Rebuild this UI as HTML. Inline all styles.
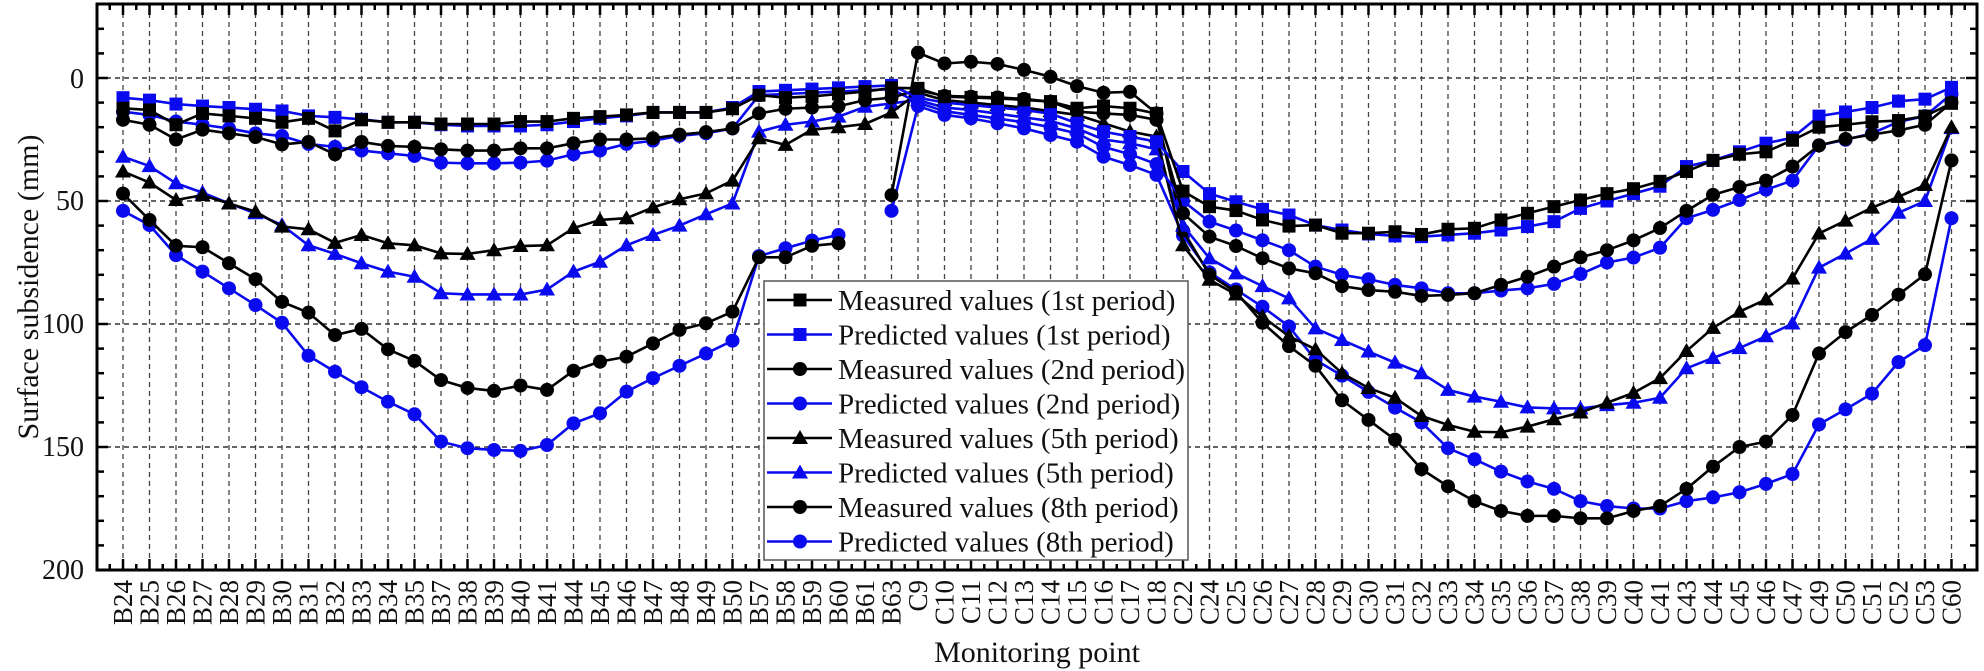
<!DOCTYPE html>
<html><head><meta charset="utf-8"><style>
html,body{margin:0;padding:0;background:#fff}
svg{display:block}
text{font-family:"Liberation Serif",serif;fill:#111}
</style></head><body>
<svg id="s" width="1984" height="671" viewBox="0 0 1984 671" xmlns="http://www.w3.org/2000/svg">
<g id="grid"></g>
<g id="series"></g>
<rect x="97" y="4" width="1880" height="566" fill="none" stroke="#000" stroke-width="3"/>
<g id="ticks"></g>
<g font-size="28" text-anchor="end">
<text x="84" y="88">0</text>
<text x="84" y="210">50</text>
<text x="84" y="333">100</text>
<text x="84" y="456">150</text>
<text x="84" y="579">200</text>
</g>
<text transform="translate(38,287) rotate(-90)" font-size="30" text-anchor="middle">Surface subsidence (mm)</text>
<text x="1037" y="662" font-size="30" text-anchor="middle">Monitoring point</text>
<g id="xl" font-size="27" text-anchor="end"></g>
<g id="legend">
<rect x="764" y="281" width="424" height="279" fill="#fff" stroke="#555" stroke-width="1.5"/>
<g font-size="29">
<text x="838" y="310">Measured values (1st period)</text>
<text x="838" y="344.5">Predicted values (1st period)</text>
<text x="838" y="379">Measured values (2nd period)</text>
<text x="838" y="413.5">Predicted values (2nd period)</text>
<text x="838" y="448">Measured values (5th period)</text>
<text x="838" y="482.5">Predicted values (5th period)</text>
<text x="838" y="517">Measured values (8th period)</text>
<text x="838" y="551.5">Predicted values (8th period)</text>
</g>
</g>
<g id="xlabels" font-size="27" text-anchor="end">
</g>
</svg>
<script>
var NS="http://www.w3.org/2000/svg";
function el(t,a,p){var e=document.createElementNS(NS,t);for(var k in a)e.setAttribute(k,a[k]);p.appendChild(e);return e;}
var cats=["B24","B25","B26","B27","B28","B29","B30","B31","B32","B33","B34","B35","B37","B38","B39","B40","B41","B44","B45","B46","B47","B48","B49","B50","B57","B58","B59","B60","B61","B63","C9","C10","C11","C12","C13","C14","C15","C16","C17","C18","C22","C24","C25","C26","C27","C28","C29","C30","C31","C32","C33","C34","C35","C36","C37","C38","C39","C40","C41","C43","C44","C45","C46","C47","C49","C50","C51","C52","C53","C60"];
function X(i){return 123+26.5*i;}
function Y(v){return 78+2.46*v;}
var g=document.getElementById("grid"),tk=document.getElementById("ticks"),sr=document.getElementById("series"),lg=document.getElementById("legend");
[0,50,100,150].forEach(function(v){el("line",{x1:97,x2:1977,y1:Y(v),y2:Y(v),stroke:"#333","stroke-width":1.5,"stroke-dasharray":"5 4"},g);});
for(var i=0;i<cats.length;i++){el("line",{x1:X(i),x2:X(i),y1:4,y2:570,stroke:"#444","stroke-width":1.3,"stroke-dasharray":"5 4"},g);}
// y ticks
for(var v=-30;v<=200;v+=10){var L=(v%50==0)?11:7;var y=Y(v);
el("line",{x1:97,x2:97+L,y1:y,y2:y,stroke:"#000","stroke-width":2.5},tk);
el("line",{x1:1977,x2:1977-L,y1:y,y2:y,stroke:"#000","stroke-width":2.5},tk);}
for(var i=-0.5;i<cats.length;i+=0.5){var x=X(i);var L=(i%1==0)?11:6;
el("line",{x1:x,x2:x,y1:570,y2:570-L,stroke:"#000","stroke-width":2.5},tk);
el("line",{x1:x,x2:x,y1:4,y2:4+L,stroke:"#000","stroke-width":2.5},tk);}
var xl=document.getElementById("xlabels");
cats.forEach(function(c,i){var t=el("text",{transform:"translate("+(X(i)+9)+",580) rotate(-90)"},xl);t.textContent=c;});
var n=null;
var D={
M1:[12.3,13,19,14.4,15.4,16.4,18,16.4,21.5,17,18,18,18.7,18.7,18.7,17.7,17.7,16.4,15.7,15,14,14,14,12.5, 7,8,7.5,6.5,5.5,4, 4.2,7.6,7.9,8.3,8.9,9.6,12.3,11.4,12.3,14.4, 46,52.3,53.9,57.7,60.2,59.8,63.1,63.1,62.5,63.6,61.5,61.1,57.7,55,52.3,49.6,47,45,42,38,33.5,31,30,25.3,20,19,17.8,17.3,15.5,10.3],
P1:[8,9,10.6,11.4,12,12.7,13.4,15.4,16,16.8,18,18,19,19.5,19.5,19.5,19,17.7,16.4,15.4,14,14,14,12, 5.5,5,4.5,4,3.5,3, 8,10,11,12,13,14.5,18.4,21.8,23.8,25.9, 38,47,50.3,53.4,55.7,59.8,61.8,63.4,64.2,64.5,63.8,63.1,61.8,60.4,58.4,53,50,47,44,36,33.5,30,26.5,24.3,15.5,13.8,12,9.4,8.6,3.8],
M2:[17,19,25,21,22.5,24,27,26,31,26,27.6,28,29,29.5,29.5,28.6,28.6,26.5,25,25,24.5,23,22,20.5, 14.4,12.5,12,11.5,9,8, 4.9,7.3,7.6,7.9,8.5,9.6,13.7,14.4,15,17, 55,64.5,68.3,73.3,77.4,79.4,84.6,86.2,86.9,88.6,88.2,87.5,84.1,80.8,76.7,72.9,70,66,61,54,47.5,44.3,41.7,36,27.4,24.8,23,21.3,19,10],
P2:[13.7,15,17.7,19,20.5,22.5,23.6,26.8,28,29.5,30.6,31.7,34.4,34.7,34.7,34.4,33.6,31,29.5,26.8,25.5,23.5,22.5,20.5, 7,6.5,6,5.5,5,4.5, 10,13.5,15,16.5,18,20,22.5,28,31,35, 50,58.4,62,66,70,76.7,80,81.8,84.1,85.5,87.5,87.5,86.4,85.5,83.7,79.7,75,73,69,57,53.6,49.6,45.4,41.7,27.4,25.1,22.5,17.8,15.5,6.5],
M5:[38,42.5,49.6,47.6,51,54.3,60.4,61.5,67,63.8,67.2,68,71.3,71.5,70,68.3,68,61,57.7,57,52.6,49.3,46.9,41.7, 24.5,27.2,21,20,18.7,14, 6,9,10,11,12,13.5,15,18.4,21.8,23.8, 68,82,88,97,105,110.3,120,126,130,137.4,141,143.8,144,141.7,138.7,136,132,128,122,111,101.6,95,90,81.5,63.2,58,52.7,48.3,43.5,20],
P5:[32,35.8,42.8,46.6,51,55,59.8,68,71.5,75.3,78.7,80.8,87.5,88,88,88,86,78.7,74.7,68,63.8,60,55.4,51, 21.8,19,17.7,15.7,11.7,10.3, 9,12,13,14.5,16,17.5,20.5,25,26.5,29, 60,73.3,79.4,84.6,89.6,101.8,106.5,111.2,115.7,120,126.8,129.5,131.6,133.9,134.3,134.3,133,132,130,118,113.8,109.8,105,99.8,77.1,71.4,65.4,54.8,50,20.4],
M8:[47,57.7,68.2,68.8,75.3,81.8,91,95.4,104.5,102,110.3,115,122.8,126,127.2,125,126.8,119,115.3,113.3,107.9,102.4,99.7,95, 72.9,72.9,68.2,67.2,n,47.6, -10.3,-5.9,-6.6,-5.7,-3.3,-0.5,3.3,6,5.6,14.4, 62,80,87,99.5,109,117,131,139,147,159,166,172,176,178,178,179,179,176,174,167,158,150,147.8,137,112,103.3,96.3,88.1,79.8,33.5],
P8:[54,59.8,72,78.7,85.5,92.3,99.5,112.9,119.4,125.7,131.6,136.7,147.8,150.5,151.2,151.6,149.2,140.4,136.3,127.5,122,117,112,106.8, 72.4,69.2,66.1,63.8,n,54, 11.4,15,16.4,18.4,20.5,23.2,25.9,32,35.4,39.4, 64,79,86,93,101,114.6,121,127.6,134,140,150.5,155,160,164,167,172,174,175,175,172,170.5,168.4,165,161,140.8,134.7,128.3,115.5,108.6,57]
};
var B="#0a0aee",K="#000";
var S=[["M1",K,"sq"],["P1",B,"sq"],["M2",K,"ci"],["P2",B,"ci"],["M5",K,"tr"],["P5",B,"tr"],["M8",K,"ci"],["P8",B,"ci"]];
function mk(t,x,y,c,p){
 if(t=="sq")el("rect",{x:x-6.5,y:y-6.5,width:13,height:13,fill:c},p);
 else if(t=="ci")el("circle",{cx:x,cy:y,r:7,fill:c},p);
 else el("polygon",{points:(x)+","+(y-8)+" "+(x-8)+","+(y+6)+" "+(x+8)+","+(y+6),fill:c},p);
}
var order=[7,6,5,4,3,2,1,0];
order.forEach(function(k){var s=S[k],d=D[s[0]];var segs=[],cur=[];
 d.forEach(function(v,i){if(v===null){if(cur.length)segs.push(cur);cur=[];}else cur.push([X(i),Y(v)]);});
 if(cur.length)segs.push(cur);
 segs.forEach(function(sg){el("polyline",{points:sg.map(function(p){return p.join(",")}).join(" "),fill:"none",stroke:s[1],"stroke-width":2.6,"stroke-linejoin":"round"},sr);});
 d.forEach(function(v,i){if(v!==null)mk(s[2],X(i),Y(v),s[1],sr);});
});
S.forEach(function(s,k){var y=300+34.5*k;
 el("line",{x1:767,x2:832,y1:y,y2:y,stroke:s[1],"stroke-width":2.6},lg);
 mk(s[2],800,y,s[1],lg);});
</script>
</body></html>
